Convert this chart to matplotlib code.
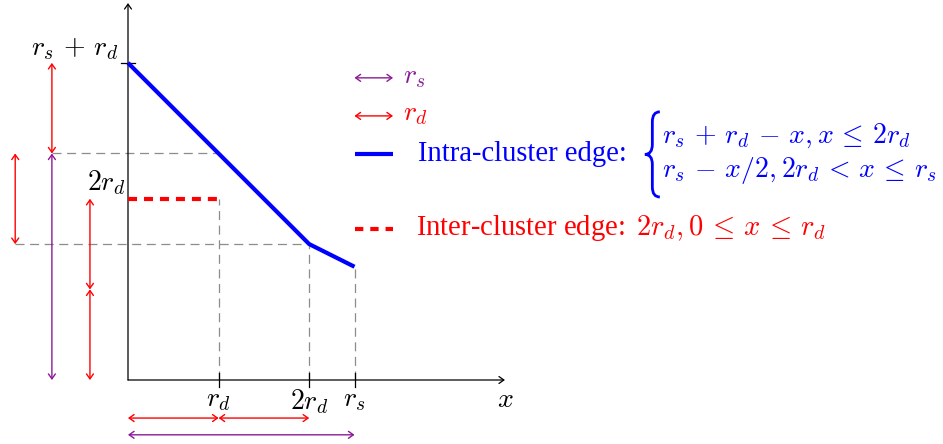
import matplotlib
matplotlib.use("Agg")
import matplotlib.pyplot as plt
from matplotlib.patches import FancyArrowPatch, PathPatch
from matplotlib.path import Path

plt.rcParams["font.family"] = ["Liberation Serif", "DejaVu Serif"]
plt.rcParams["mathtext.fontset"] = "cm"
plt.rcParams["lines.scale_dashes"] = False

# values (r_s = 5, r_d = 2 in axis units)
r_s = 5.0
r_d = 2.0
intra_x = [0.0, 4.0, 5.0]
intra_y = [7.0, 3.0, 2.5]
inter_x = [0.0, 2.0]
inter_y = [4.0, 4.0]
xtick_vals = [2.0, 4.0, 5.0]
xtick_labels = [r"$r_d$", r"$2r_d$", r"$r_s$"]

BLUE = "#0000ff"
RED = "#ff0000"
PURPLE = "#8c1a96"
GRAY = "#8c8c8c"
FS = 20

# 45.3 px per unit, origin at (128, 380) px
scale = 45.3
W, H = 943, 444
fig = plt.figure(figsize=(W / 100, H / 100), dpi=100)
ax = fig.add_axes([0, 0, 1, 1])
ax.set_xlim(-128 / scale, (W - 128) / scale)
ax.set_ylim((380 - H) / scale, 380 / scale)
ax.axis("off")


def arrow(p0, p1, color, style="<->", lw=1.0, z=3):
    a = FancyArrowPatch(p0, p1, arrowstyle=style + ",head_length=0.35,head_width=0.25",
                        mutation_scale=10, shrinkA=0, shrinkB=0,
                        color=color, lw=lw, zorder=z)
    ax.add_patch(a)


# axes with arrow tips
arrow((0, 0), (8.32, 0), "black", style="->", lw=0.9)
arrow((0, 0), (0, 8.32), "black", style="->", lw=0.9)

# helper dashed lines
dash = (0, (6.5, 4.0))
ax.plot([-1.68, 2.0], [r_s, r_s], color=GRAY, lw=0.9, ls=dash, zorder=1)
ax.plot([-2.49, 4.0], [3.0, 3.0], color=GRAY, lw=0.9, ls=dash, zorder=1)
for xv, yv in zip([2.0, 4.0, 5.0], [4.0, 3.0, 2.5]):
    ax.plot([xv, xv], [0, yv], color=GRAY, lw=0.9, ls=dash, zorder=1)

# ticks
for xv, lab in zip(xtick_vals, xtick_labels):
    ax.plot([xv, xv], [-0.15, 0.15], color="black", lw=0.9, zorder=2)
    ax.text(xv, -0.17, lab, ha="center", va="top", fontsize=FS)
ax.plot([-0.15, 0.15], [r_s + r_d, r_s + r_d], color="black", lw=0.9, zorder=2)
ax.text(-0.2, 7.03, r"$r_s\,+\,r_d$", ha="right", va="bottom", fontsize=FS)
ax.text(-0.06, 4.05, r"$2r_d$", ha="right", va="bottom", fontsize=FS)
ax.text(8.32, -0.17, r"$x$", ha="center", va="top", fontsize=FS)

# the two edge curves
ax.plot(intra_x, intra_y, color=BLUE, lw=3, solid_capstyle="butt", zorder=4)
ax.plot(inter_x, inter_y, color=RED, lw=3, ls=(0, (6.5, 5.0)),
        dash_capstyle="butt", zorder=4)

# length markers
arrow((-1.68, 7.0), (-1.68, 5.0), RED)
arrow((-1.68, 5.0), (-1.68, 0.0), PURPLE)
arrow((-2.49, 5.0), (-2.49, 3.0), RED)
arrow((-0.84, 4.0), (-0.84, 2.0), RED)
arrow((-0.84, 2.0), (-0.84, 0.0), RED)
arrow((0.0, -0.84), (2.0, -0.84), RED)
arrow((2.0, -0.84), (4.0, -0.84), RED)
arrow((0.0, -1.21), (5.0, -1.21), PURPLE)

# legend, drawn by hand
lx0, lx1, tx = 5.0, 5.85, 6.07
arrow((lx0, 6.67), (lx1, 6.67), PURPLE)
ax.text(tx, 6.56, r"$r_s$", color=PURPLE, fontsize=FS, va="baseline")
arrow((lx0, 5.83), (lx1, 5.83), RED)
ax.text(tx, 5.74, r"$r_d$", color=RED, fontsize=FS, va="baseline")

ax.plot([lx0, lx1], [4.99, 4.99], color=BLUE, lw=3, solid_capstyle="butt")
ax.text(6.4, 4.83, "Intra-cluster edge:", color=BLUE, fontsize=20.6, va="baseline")

# curly brace for the cases
bl, br, bt, bb, bm = 11.41, 11.74, 5.92, 4.04, 4.98
bx = (bl + br) / 2
h = 0.22
verts = [(br, bt), (bx, bt), (bx, bt - h),
         (bx, bm + h),
         (bx, bm), (bl, bm),
         (bx, bm), (bx, bm - h),
         (bx, bb + h),
         (bx, bb), (br, bb)]
codes = [Path.MOVETO, Path.CURVE3, Path.CURVE3,
         Path.LINETO,
         Path.CURVE3, Path.CURVE3,
         Path.CURVE3, Path.CURVE3,
         Path.LINETO,
         Path.CURVE3, Path.CURVE3]
ax.add_patch(PathPatch(Path(verts, codes), fill=False, edgecolor=BLUE, lw=2.0))
ax.text(11.79, 5.23, r"$r_s\,+\,r_d\,-\,x, x\,\leq\,2r_d$", color=BLUE,
        fontsize=FS, va="baseline")
ax.text(11.79, 4.48, r"$r_s\,-\,x/2, 2r_d\,<\,x\,\leq\,r_s$", color=BLUE,
        fontsize=FS, va="baseline")

ax.plot([lx0, lx1], [3.33, 3.33], color=RED, lw=3, ls=(0, (6.0, 5.0)),
        dash_capstyle="butt")
ax.text(6.36, 3.2, r"Inter-cluster edge: $\,2r_d, 0\,\leq\,x\,\leq\,r_d$", color=RED,
        fontsize=20.6, va="baseline")

fig.savefig("out.png", dpi=100)
